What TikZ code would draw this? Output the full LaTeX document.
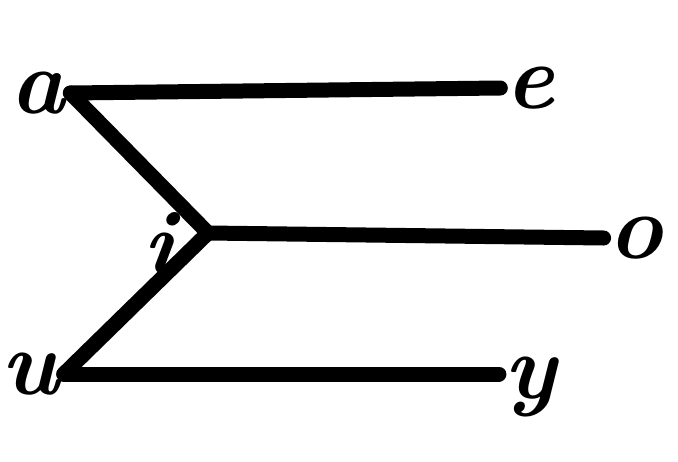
\documentclass[tikz,border=0pt]{standalone}
\usepackage{fontspec}
\begin{document}
\begin{tikzpicture}[x=1pt,y=-1pt,
  lbl/.style={inner sep=5pt,font=\fontsize{92}{92}\selectfont\bfseries\itshape},
  stroke/.style={line width=15pt,line cap=round}]
\useasboundingbox (0,0) rectangle (678,461);
\node[lbl] (a) at (38,93) {a};
\node[lbl] (e) at (530,88) {e};
\node[lbl] (o) at (636,238) {o};
\node[lbl] (u) at (30,374) {u};
\node[lbl,anchor=base] (y) at (530,398) {y};
\node[lbl,inner sep=0pt] (i) at (160,244) {i};
\coordinate (j) at (208,233);
\draw[stroke] (a.east) -- (e.west);
\draw[stroke] (a.east) -- (j);
\draw[stroke] (j) -- (o.west);
\draw[stroke] (j) -- (u.east);
\draw[stroke] (u.east) -- (u.east -| y.west);
\end{tikzpicture}
\end{document}
